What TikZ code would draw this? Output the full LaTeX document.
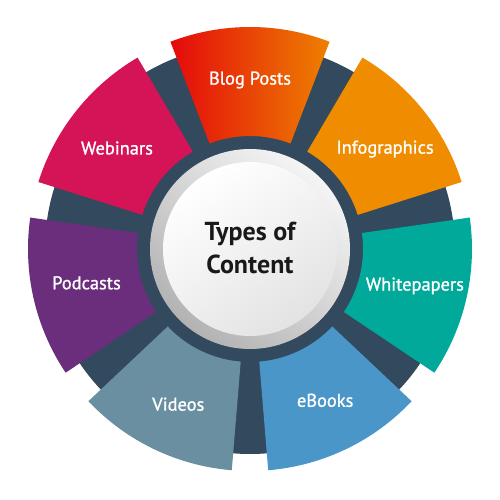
\documentclass[tikz,border=0pt]{standalone}
\usepackage{fontspec}
\setmainfont{PT Sans}
\newfontfamily\segfont[FakeBold=1.2]{PT Sans}
\definecolor{navy}{RGB}{50,73,94}
\definecolor{blogred}{RGB}{228,10,12}
\definecolor{blogorange}{RGB}{238,128,0}
\definecolor{infoorange}{RGB}{240,140,0}
\definecolor{teal}{RGB}{0,169,154}
\definecolor{bookblue}{RGB}{74,150,200}
\definecolor{slate}{RGB}{106,143,160}
\definecolor{purple}{RGB}{106,46,124}
\definecolor{magenta}{RGB}{212,20,87}
\tikzset{
  seglabel/.style={text=white, font=\segfont\fontsize{13.8}{16}\selectfont, inner sep=0.75pt},
  titlelabel/.style={text=black!90, font=\fontsize{19.5}{25}\selectfont\bfseries, align=center, inner sep=0.75pt}
}
\begin{document}
\begin{tikzpicture}[x=0.75pt,y=0.75pt]
\useasboundingbox (-250,-251) rectangle (250,249);

%Shape: Circle [back disc]
\fill [navy] (0,0) circle (205);
%Shape: Arc [Blog Posts]
\path [left color=blogred, right color=blogorange] (69:113) arc[start angle=69, end angle=111, radius=113] -- (111:222) arc[start angle=111, end angle=69, radius=222] -- cycle;
%Shape: Arc [Infographics]
\fill [infoorange] (17.57:113) arc[start angle=17.57, end angle=59.57, radius=113] -- (59.57:222) arc[start angle=59.57, end angle=17.57, radius=222] -- cycle;
%Shape: Arc [Whitepapers]
\fill [teal] (-33.86:113) arc[start angle=-33.86, end angle=8.14, radius=113] -- (8.14:222) arc[start angle=8.14, end angle=-33.86, radius=222] -- cycle;
%Shape: Arc [eBooks]
\fill [bookblue] (-85.29:113) arc[start angle=-85.29, end angle=-43.29, radius=113] -- (-43.29:222) arc[start angle=-43.29, end angle=-85.29, radius=222] -- cycle;
%Shape: Arc [Videos]
\fill [slate] (-136.71:113) arc[start angle=-136.71, end angle=-94.71, radius=113] -- (-94.71:222) arc[start angle=-94.71, end angle=-136.71, radius=222] -- cycle;
%Shape: Arc [Podcasts]
\fill [purple] (171.86:113) arc[start angle=171.86, end angle=213.86, radius=113] -- (213.86:222) arc[start angle=213.86, end angle=171.86, radius=222] -- cycle;
%Shape: Arc [Webinars]
\fill [magenta] (120.43:113) arc[start angle=120.43, end angle=162.43, radius=113] -- (162.43:222) arc[start angle=162.43, end angle=120.43, radius=222] -- cycle;

%Shape: Circle [grey ring]
\shade [top color=gray!8, bottom color=gray!60, shading angle=-40] (0,0) circle (100);
%Shape: Circle [white face]
\shade [top color=white, bottom color=gray!22, shading angle=35] (0,0) circle (87);

% Text Node
\node [seglabel] (blog) at (90:169) {Blog Posts};
% Text Node
\node [seglabel] (infog) at (36.5:168) {Infographics};
% Text Node
\node [seglabel] (white) at (-12.6:169) {Whitepapers};
% Text Node
\node [seglabel] (ebooks) at (-63.6:169) {eBooks};
% Text Node
\node [seglabel] (videos) at (-114.8:171) {Videos};
% Text Node
\node [seglabel] (podcasts) at (191.7:167) {Podcasts};
% Text Node
\node [seglabel] (webinars) at (142.8:167) {Webinars};
% Text Node
\node [titlelabel] (title) at (0,1) {Types of\\Content};
\end{tikzpicture}
\end{document}
